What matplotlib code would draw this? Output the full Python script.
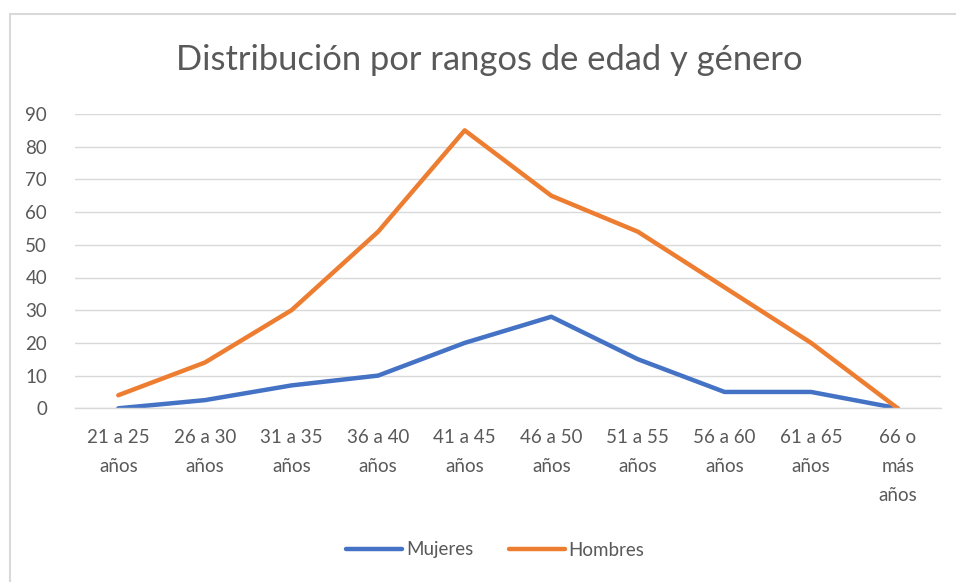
import matplotlib.pyplot as plt
from matplotlib.patches import Rectangle

categories = ["21 a 25\naños", "26 a 30\naños", "31 a 35\naños", "36 a 40\naños",
              "41 a 45\naños", "46 a 50\naños", "51 a 55\naños", "56 a 60\naños",
              "61 a 65\naños", "66 o\nmás\naños"]
mujeres = [0, 2.5, 7, 10, 20, 28, 15, 5, 5, 0]
hombres = [4, 14, 30, 54, 85, 65, 54, 37, 20, 0]
yticks = [0, 10, 20, 30, 40, 50, 60, 70, 80, 90]

plt.rcParams['font.family'] = ['Lato', 'DejaVu Sans']
W, H = 956, 582
fig = plt.figure(figsize=(W/100, H/100), dpi=100)
fig.patch.set_facecolor('white')

# chart border
fig.patches.append(Rectangle((10/W, -0.01), 1.0, 1 - 14/H + 0.01, transform=fig.transFigure,
                             fill=False, edgecolor='#D9D9D9', linewidth=1.5))

left, right = 75/W, 941/W
bottom, top = 1 - 408.3/H, 1 - 114/H
ax = fig.add_axes([left, bottom, right - left, top - bottom])
x = list(range(len(categories)))
ax.plot(x, mujeres, color='#4472C4', linewidth=3.2, label='Mujeres', solid_capstyle='round')
ax.plot(x, hombres, color='#ED7D31', linewidth=3.2, label='Hombres', solid_capstyle='round')

ax.set_xlim(-0.5, len(categories) - 0.5)
ax.set_ylim(0, 90)
ax.set_yticks(yticks)
ax.set_yticklabels([str(v) for v in yticks])
ax.set_xticks(x)
ax.set_xticklabels(categories, linespacing=1.85)
ax.yaxis.grid(True, color='#D9D9D9', linewidth=1)
ax.set_axisbelow(True)
for s in ['top', 'right', 'left']:
    ax.spines[s].set_visible(False)
ax.spines['bottom'].set_color('#D9D9D9')
ax.spines['bottom'].set_linewidth(1)
ax.tick_params(axis='both', length=0, colors='#595959', labelsize=13.5)
ax.tick_params(axis='y', pad=20)
ax.tick_params(axis='x', pad=15)

fig.text(0.512, 1 - 60/H, "Distribución por rangos de edad y género", ha='center', va='center',
         fontsize=24.8, color='#595959')

leg = fig.legend(loc='center', bbox_to_anchor=(0.518, 1 - 550/H), ncol=2, frameon=False,
                 fontsize=13.5, handlelength=3.0, handletextpad=0.2, columnspacing=1.9)
for t in leg.get_texts():
    t.set_color('#595959')

fig.savefig('out.png', dpi=100, facecolor='white')
